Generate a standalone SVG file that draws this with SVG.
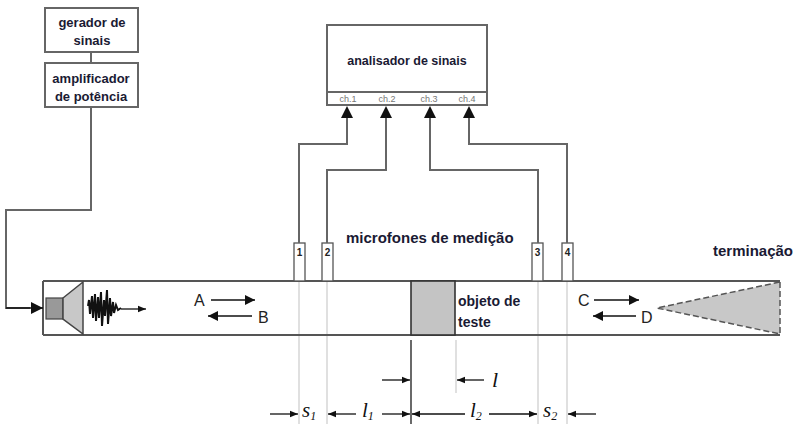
<svg xmlns="http://www.w3.org/2000/svg" width="806" height="424" viewBox="0 0 806 424">
  <defs>
    <marker id="ah" viewBox="0 0 10 10" refX="10" refY="5" markerWidth="10" markerHeight="10" markerUnits="userSpaceOnUse" orient="auto">
      <path d="M0,0 L10,5 L0,10 Z" fill="#111"/>
    </marker>
    <marker id="ahs" viewBox="0 0 10 10" refX="10" refY="5" markerWidth="8" markerHeight="8" markerUnits="userSpaceOnUse" orient="auto">
      <path d="M0,1 L10,5 L0,9 Z" fill="#111"/>
    </marker>
    <marker id="ahbig" viewBox="0 0 12 12" refX="12" refY="6" markerWidth="12" markerHeight="12" markerUnits="userSpaceOnUse" orient="auto">
      <path d="M0,0 L12,6 L0,12 Z" fill="#111"/>
    </marker>
  </defs>
  <style>
    .box { fill: #fff; stroke: #666; stroke-width: 2; }
    .wire { fill: none; stroke: #666; stroke-width: 2; }
    .lbl { font-family: "Liberation Sans", Arial, sans-serif; font-weight: bold; fill: #1a1a33; }
    .ch { font-family: "Liberation Sans", Arial, sans-serif; font-size: 9px; fill: #777; text-anchor: middle; }
    .ltr { font-family: "Liberation Sans", Arial, sans-serif; font-size: 16px; fill: #222; }
    .arr { stroke: #111; stroke-width: 1.3; fill: none; }
    .guide { stroke: #ccc; stroke-width: 1.2; }
    .math { font-family: "Liberation Serif", "Times New Roman", serif; font-style: italic; fill: #111; }
    .mic { fill: #fff; stroke: #555; stroke-width: 1.3; }
    .micn { font-family: "Liberation Sans", Arial, sans-serif; font-weight: bold; font-size: 10px; fill: #222; text-anchor: middle; }
  </style>

  <!-- measurement guide lines -->
  <g id="guides">
    <line class="guide" x1="299" y1="281" x2="299" y2="424"/>
    <line class="guide" x1="327" y1="281" x2="327" y2="424"/>
    <line class="guide" x1="538" y1="281" x2="538" y2="424"/>
    <line class="guide" x1="567" y1="281" x2="567" y2="424"/>
    <line class="guide" x1="456" y1="340" x2="456" y2="393"/>
    <line x1="411" y1="340" x2="411" y2="424" stroke="#444" stroke-width="1.6"/>
  </g>

  <!-- source chain -->
  <g id="gerador">
    <rect class="box" x="45" y="8" width="93" height="44"/>
    <text class="lbl" font-size="13" x="92" y="27" text-anchor="middle">gerador de</text>
    <text class="lbl" font-size="13" x="92" y="45" text-anchor="middle">sinais</text>
  </g>
  <g id="amplificador">
    <rect class="box" x="45" y="63" width="93" height="44"/>
    <text class="lbl" font-size="13" x="91" y="83" text-anchor="middle">amplificador</text>
    <text class="lbl" font-size="13" x="91" y="101" text-anchor="middle">de potência</text>
  </g>

  <!-- analyser -->
  <g id="analisador">
    <rect class="box" x="327" y="25" width="160" height="67"/>
    <rect class="box" x="327" y="92" width="160" height="13" stroke-width="1.6"/>
    <text class="lbl" font-size="12.5" x="407" y="65" text-anchor="middle">analisador de sinais</text>
    <text class="ch" x="348" y="102">ch.1</text>
    <text class="ch" x="387" y="102">ch.2</text>
    <text class="ch" x="429" y="102">ch.3</text>
    <text class="ch" x="467" y="102">ch.4</text>
  </g>

  <!-- tube -->
  <g id="tubo">
    <line x1="43" y1="281" x2="780" y2="281" stroke="#555" stroke-width="2"/>
    <line x1="43" y1="335" x2="780" y2="335" stroke="#555" stroke-width="2"/>
    <line x1="43" y1="281" x2="43" y2="335" stroke="#555" stroke-width="2"/>
  </g>

  <!-- loudspeaker and pulse -->
  <g id="altifalante">
    <rect x="46" y="298" width="17" height="21" fill="#999" stroke="#444" stroke-width="1.2"/>
    <polygon points="63,298 83,282 83,334 63,319" fill="#c8c8c8" stroke="#444" stroke-width="1.5"/>
    <path d="M88,306 L89,300 L90,314 L92,296 L93,318 L95,294 L96,321 L98,297 L99,318 L101,292 L102,326 L104,300 L105,316 L107,290 L108,324 L110,298 L111,316 L113,302 L114,313 L116,305 L118,310 L121,308" fill="none" stroke="#111" stroke-width="2"/>
    <line class="arr" x1="121" y1="309" x2="146" y2="309" marker-end="url(#ahs)"/>
  </g>

  <!-- test object -->
  <g id="objeto">
    <rect x="411" y="281" width="44" height="54" fill="#c4c4c4" stroke="#333" stroke-width="1.6"/>
    <text class="lbl" font-size="14" x="458" y="306">objeto de</text>
    <text class="lbl" font-size="14" x="458" y="327">teste</text>
  </g>

  <!-- anechoic termination -->
  <g id="terminacao">
    <polygon points="780,282 780,334 657,308" fill="#c8c8c8" stroke="#555" stroke-width="1.5" stroke-dasharray="6,3"/>
    <text class="lbl" font-size="15" x="713" y="256">terminação</text>
  </g>

  <!-- microphones -->
  <g id="mic1"><rect class="mic" x="294" y="243" width="11" height="38"/><text class="micn" x="299.5" y="256">1</text></g>
  <g id="mic2"><rect class="mic" x="322" y="243" width="11" height="38"/><text class="micn" x="327.5" y="256">2</text></g>
  <g id="mic3"><rect class="mic" x="532" y="243" width="11" height="38"/><text class="micn" x="537.5" y="256">3</text></g>
  <g id="mic4"><rect class="mic" x="562" y="243" width="11" height="38"/><text class="micn" x="567.5" y="256">4</text></g>
  <text class="lbl" font-size="15" x="346" y="243">microfones de medição</text>

  <!-- wave labels -->
  <g id="ondas">
    <text class="ltr" x="194" y="306">A</text>
    <line class="arr" x1="211" y1="300" x2="255" y2="300" marker-end="url(#ah)"/>
    <line class="arr" x1="252" y1="316" x2="208" y2="316" marker-end="url(#ah)"/>
    <text class="ltr" x="258" y="323">B</text>
    <text class="ltr" x="578" y="306">C</text>
    <line class="arr" x1="594" y1="300" x2="639" y2="300" marker-end="url(#ah)"/>
    <line class="arr" x1="636" y1="316" x2="593" y2="316" marker-end="url(#ah)"/>
    <text class="ltr" x="641" y="323">D</text>
  </g>

  <!-- connectors -->
  <g id="conectores">
    <line class="wire" x1="91" y1="52" x2="91" y2="63"/>
    <polyline class="wire" points="91,107 91,210 6,210 6,308 30,308"/>
    <line class="arr" x1="6" y1="308" x2="43" y2="308" stroke="#666" stroke-width="2" marker-end="url(#ahbig)"/>
    <polyline class="wire" points="299,243 299,144 347,144 347,110"/>
    <polyline class="wire" points="327,243 327,170 386,170 386,110"/>
    <polyline class="wire" points="538,243 538,170 430,170 430,110"/>
    <polyline class="wire" points="567,243 567,144 469,144 469,110"/>
    <path d="M347,106 L341,118 L353,118 Z" fill="#111"/>
    <path d="M386,106 L380,118 L392,118 Z" fill="#111"/>
    <path d="M430,106 L424,118 L436,118 Z" fill="#111"/>
    <path d="M469,106 L463,118 L475,118 Z" fill="#111"/>
  </g>

  <!-- dimensions -->
  <g id="cotas">
    <line class="arr" x1="382" y1="380" x2="410" y2="380" marker-end="url(#ahs)"/>
    <line class="arr" x1="484" y1="380" x2="457" y2="380" marker-end="url(#ahs)"/>
    <text class="math" font-size="22" x="492" y="387">l</text>

    <line class="arr" x1="270" y1="414" x2="298" y2="414" marker-end="url(#ahs)"/>
    <text class="math" font-size="21" x="302" y="417">s<tspan font-size="12" dy="3">1</tspan></text>
    <line class="arr" x1="356" y1="414" x2="328" y2="414" marker-end="url(#ahs)"/>
    <text class="math" font-size="21" x="362" y="417">l<tspan font-size="12" dy="3">1</tspan></text>
    <line class="arr" x1="382" y1="414" x2="410" y2="414" marker-end="url(#ahs)"/>
    <line class="arr" x1="465" y1="414" x2="412" y2="414" marker-end="url(#ahs)"/>
    <text class="math" font-size="21" x="470" y="417">l<tspan font-size="12" dy="3">2</tspan></text>
    <line class="arr" x1="489" y1="414" x2="537" y2="414" marker-end="url(#ahs)"/>
    <text class="math" font-size="21" x="543" y="417">s<tspan font-size="12" dy="3">2</tspan></text>
    <line class="arr" x1="596" y1="414" x2="568" y2="414" marker-end="url(#ahs)"/>
  </g>
</svg>
